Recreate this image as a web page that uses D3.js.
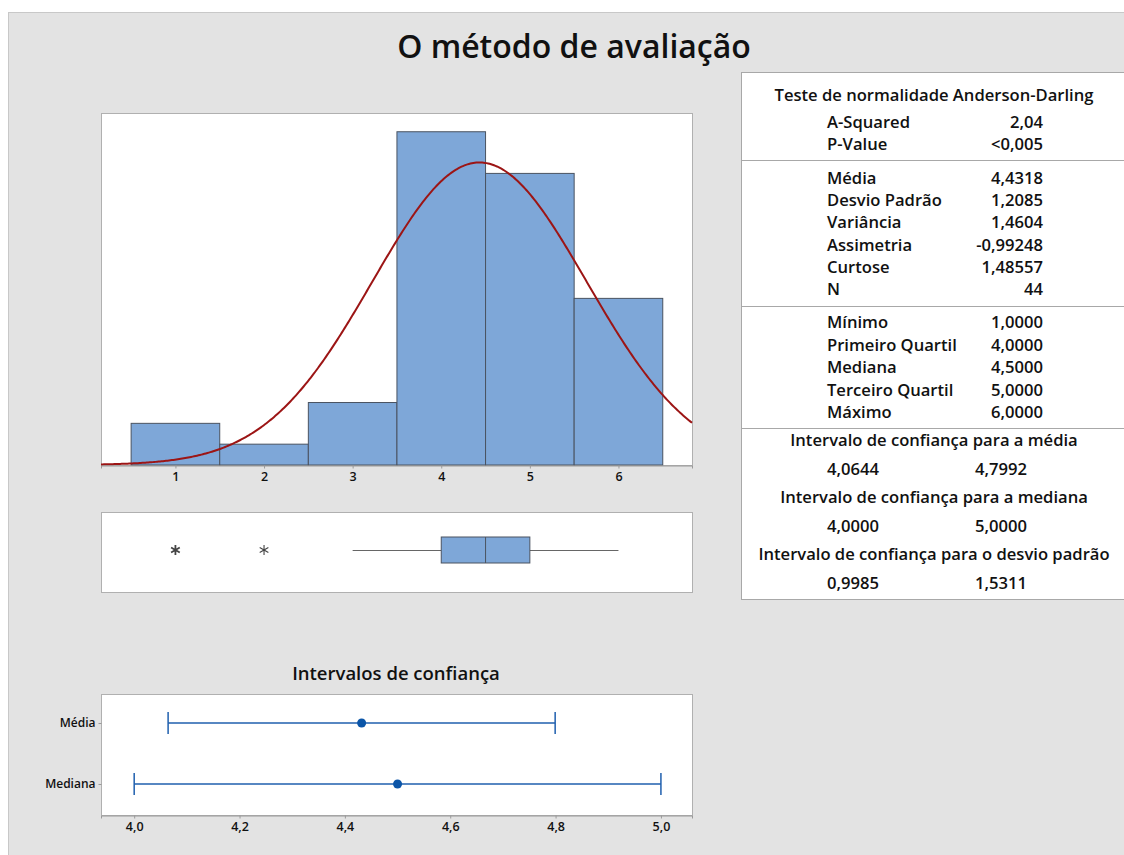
<!DOCTYPE html>
<html>
  <head>
    <title>O método de avaliação</title>
    <script type="text/javascript" src="https://cdnjs.cloudflare.com/ajax/libs/d3/7.8.5/d3.min.js"></script>
    <style>
      body { margin: 0; background: #fff; }
      text { font-family: "Open Sans", "Noto Sans", sans-serif; fill: #111; }
    </style>
  </head>
  <body>
  <script>

    // histogram bins (class midpoints) and counts
    var binMids = [1, 2, 3, 4, 5, 6];
    var binCounts = [2, 1, 3, 16, 14, 8];
    var histTicks = [1, 2, 3, 4, 5, 6];

    // summary values
    var mean = 4.4318, sd = 1.2085, n = 44;

    // box plot
    var boxQ1 = 4, boxMedian = 4.5, boxQ3 = 5;
    var whiskers = [3, 6];
    var outliers = [1, 2];

    // confidence intervals
    var ciNames = ['Média', 'Mediana'];
    var ciLow = [4.0644, 4.0];
    var ciHigh = [4.7992, 5.0];
    var ciCenter = [4.4318, 4.5];
    var ciTicks = [4.0, 4.2, 4.4, 4.6, 4.8, 5.0];

    // stats table
    var adLabels = ['A-Squared', 'P-Value'];
    var adValues = ['2,04', '<0,005'];
    var momLabels = ['Média', 'Desvio Padrão', 'Variância', 'Assimetria', 'Curtose', 'N'];
    var momValues = ['4,4318', '1,2085', '1,4604', '-0,99248', '1,48557', '44'];
    var quartLabels = ['Mínimo', 'Primeiro Quartil', 'Mediana', 'Terceiro Quartil', 'Máximo'];
    var quartValues = ['1,0000', '4,0000', '4,5000', '5,0000', '6,0000'];
    var ciTitles = ['Intervalo de confiança para a média', 'Intervalo de confiança para a mediana', 'Intervalo de confiança para o desvio padrão'];
    var ciTableLow = ['4,0644', '4,0000', '0,9985'];
    var ciTableHigh = ['4,7992', '5,0000', '1,5311'];

    var fmt = function(d) { return d3.format('.1f')(d).replace('.', ','); };

    var svg = d3.select('body')
              .append('svg')
              .attr('width', 1124)
              .attr('height', 855);

    // gray panel
    svg.append('rect')
      .attr('x', 8.5).attr('y', 12.5)
      .attr('width', 1130).attr('height', 850)
      .attr('fill', '#e3e3e3')
      .attr('stroke', '#c8c8c8');

    svg.append('text')
      .attr('x', 574).attr('y', 58)
      .attr('text-anchor', 'middle')
      .attr('font-size', 32)
      .attr('font-weight', 600)
      .text('O método de avaliação');

    // ---------- histogram ----------
    var hx0 = 101, hx1 = 692, hy0 = 113, hy1 = 465;
    var x = d3.scaleLinear().domain([0.16, 6.83]).range([hx0, hx1]);
    var y = d3.scaleLinear().domain([0, 16.9]).range([hy1, hy0]);

    svg.append('rect')
      .attr('x', hx0 + 0.5).attr('y', hy0 + 0.5)
      .attr('width', hx1 - hx0).attr('height', hy1 - hy0)
      .attr('fill', '#fff').attr('stroke', '#b0b0b0');

    svg.append('g').selectAll('rect')
      .data(binMids)
      .enter().append('rect')
      .attr('x', function(d) { return x(d - 0.5); })
      .attr('y', function(d, i) { return y(binCounts[i]); })
      .attr('width', function(d) { return x(d + 0.5) - x(d - 0.5); })
      .attr('height', function(d, i) { return y(0) - y(binCounts[i]); })
      .attr('fill', '#7ea7d8')
      .attr('stroke', '#4a5361')
      .attr('stroke-width', 1);

    // fitted normal curve, scaled to counts (bin width 1)
    var curveXs = d3.range(0, 401).map(function(i) { return 0.16 + i * (6.83 - 0.16) / 400; });
    var normal = function(v) {
      var z = (v - mean) / sd;
      return n * Math.exp(-0.5 * z * z) / (sd * Math.sqrt(2 * Math.PI));
    };
    svg.append('path')
      .datum(curveXs)
      .attr('fill', 'none')
      .attr('stroke', '#9c1515')
      .attr('stroke-width', 2)
      .attr('d', d3.line().x(function(d) { return x(d); }).y(function(d) { return y(normal(d)); }));

    var styleAxis = function(g, size) {
      g.select('.domain').attr('stroke', '#9a9a9a');
      g.selectAll('.tick line').attr('stroke', '#9a9a9a');
      g.selectAll('text')
        .attr('font-size', size)
        .attr('font-weight', 600)
        .attr('fill', '#111')
        .attr('font-family', '"Open Sans", sans-serif');
    };

    var hAxis = svg.append('g')
      .attr('transform', 'translate(0,' + (hy1 + 0.5) + ')')
      .call(d3.axisBottom(x).tickValues(histTicks).tickSize(3).tickPadding(4).tickFormat(d3.format('d')));
    styleAxis(hAxis, 12.5);

    // ---------- box plot ----------
    var by0 = 512, by1 = 592, bmid = 550;
    svg.append('rect')
      .attr('x', hx0 + 0.5).attr('y', by0 + 0.5)
      .attr('width', hx1 - hx0).attr('height', by1 - by0)
      .attr('fill', '#fff').attr('stroke', '#b0b0b0');

    svg.append('line')
      .attr('x1', x(whiskers[0])).attr('x2', x(boxQ1))
      .attr('y1', bmid + 0.5).attr('y2', bmid + 0.5)
      .attr('stroke', '#666');
    svg.append('line')
      .attr('x1', x(boxQ3)).attr('x2', x(whiskers[1]))
      .attr('y1', bmid + 0.5).attr('y2', bmid + 0.5)
      .attr('stroke', '#666');
    svg.append('rect')
      .attr('x', x(boxQ1)).attr('y', bmid - 13)
      .attr('width', x(boxQ3) - x(boxQ1)).attr('height', 26)
      .attr('fill', '#7ea7d8').attr('stroke', '#4a5361');
    svg.append('line')
      .attr('x1', x(boxMedian)).attr('x2', x(boxMedian))
      .attr('y1', bmid - 13).attr('y2', bmid + 13)
      .attr('stroke', '#4a5361');

    svg.append('g').selectAll('path')
      .data(outliers)
      .enter().append('path')
      .attr('transform', function(d) { return 'translate(' + x(d) + ',' + bmid + ')'; })
      .attr('d', d3.symbol().type(d3.symbolAsterisk).size(70))
      .attr('fill', 'none')
      .attr('stroke', '#444')
      .attr('stroke-width', function(d, i) { return i === 0 ? 1.8 : 1.1; });

    // ---------- confidence intervals ----------
    var cy0 = 694, cy1 = 815;
    var cx = d3.scaleLinear().domain([3.937, 5.059]).range([hx0, hx1]);
    var cy = d3.scalePoint().domain(ciNames).range([723, 784]);

    svg.append('text')
      .attr('x', 396).attr('y', 680)
      .attr('text-anchor', 'middle')
      .attr('font-size', 18.5)
      .attr('font-weight', 600)
      .text('Intervalos de confiança');

    svg.append('rect')
      .attr('x', hx0 + 0.5).attr('y', cy0 + 0.5)
      .attr('width', hx1 - hx0).attr('height', cy1 - cy0)
      .attr('fill', '#fff').attr('stroke', '#b0b0b0');

    var ci = svg.append('g').selectAll('g')
      .data(ciNames)
      .enter().append('g')
      .attr('transform', function(d) { return 'translate(0,' + cy(d) + ')'; });

    ci.append('line')
      .attr('x1', function(d, i) { return cx(ciLow[i]); })
      .attr('x2', function(d, i) { return cx(ciHigh[i]); })
      .attr('stroke', '#1f5fae').attr('stroke-width', 1.5);
    ci.append('line')
      .attr('x1', function(d, i) { return cx(ciLow[i]); })
      .attr('x2', function(d, i) { return cx(ciLow[i]); })
      .attr('y1', -11).attr('y2', 11)
      .attr('stroke', '#1f5fae').attr('stroke-width', 1.5);
    ci.append('line')
      .attr('x1', function(d, i) { return cx(ciHigh[i]); })
      .attr('x2', function(d, i) { return cx(ciHigh[i]); })
      .attr('y1', -11).attr('y2', 11)
      .attr('stroke', '#1f5fae').attr('stroke-width', 1.5);
    ci.append('circle')
      .attr('cx', function(d, i) { return cx(ciCenter[i]); })
      .attr('r', 4.5)
      .attr('fill', '#0b55a8');

    var cxAxis = svg.append('g')
      .attr('transform', 'translate(0,' + (cy1 + 0.5) + ')')
      .call(d3.axisBottom(cx).tickValues(ciTicks).tickSize(3).tickPadding(4).tickFormat(fmt));
    styleAxis(cxAxis, 12.5);

    var cyAxis = svg.append('g')
      .attr('transform', 'translate(' + (hx0 + 0.5) + ',0)')
      .call(d3.axisLeft(cy).tickSize(3).tickPadding(3));
    cyAxis.select('.domain').remove();
    styleAxis(cyAxis, 12);

    // ---------- stats table ----------
    var tx = 741, ty0 = 72, ty1 = 599;
    svg.append('rect')
      .attr('x', tx + 0.5).attr('y', ty0 + 0.5)
      .attr('width', 400).attr('height', ty1 - ty0)
      .attr('fill', '#fff').attr('stroke', '#a8a8a8');

    [160, 306, 428].forEach(function(sy) {
      svg.append('line')
        .attr('x1', tx).attr('x2', 1124)
        .attr('y1', sy + 0.5).attr('y2', sy + 0.5)
        .attr('stroke', '#a8a8a8');
    });

    var labX = 827, valX = 1043, fs = 16.6;

    var addText = function(xx, yy, s, anchor) {
      svg.append('text')
        .attr('x', xx).attr('y', yy)
        .attr('text-anchor', anchor)
        .attr('font-size', fs)
        .attr('font-weight', 600)
        .text(s);
    };

    addText(934, 101, 'Teste de normalidade Anderson-Darling', 'middle');

    var rowsAt = function(labels, values, startY, step) {
      labels.forEach(function(l, i) {
        addText(labX, startY + i * step, l, 'start');
        addText(valX, startY + i * step, values[i], 'end');
      });
    };
    rowsAt(adLabels, adValues, 128, 22);
    rowsAt(momLabels, momValues, 184, 22.2);
    rowsAt(quartLabels, quartValues, 328, 22.5);

    ciTitles.forEach(function(t, i) {
      var yy = 446 + i * 57;
      addText(934, yy, t, 'middle');
      addText(labX, yy + 29, ciTableLow[i], 'start');
      addText(975, yy + 29, ciTableHigh[i], 'start');
    });

  </script>
 </body>
</html>
